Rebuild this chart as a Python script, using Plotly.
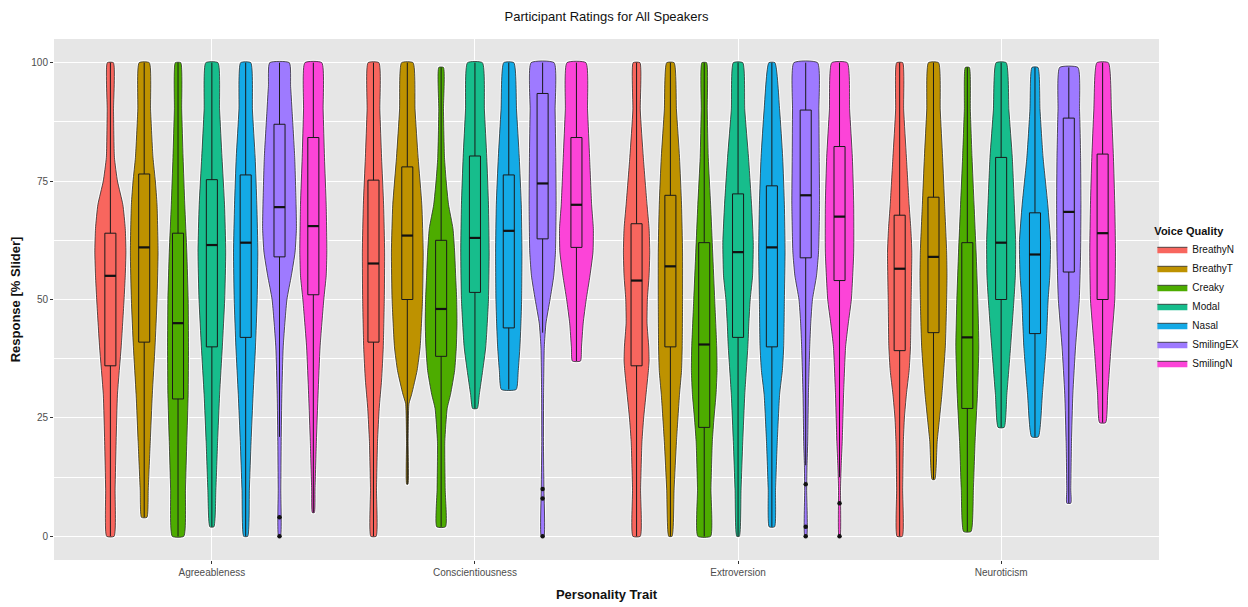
import plotly.graph_objects as go

# ---------------- data ----------------
traits = ["Agreeableness", "Conscientiousness", "Extroversion", "Neuroticism"]
qualities = ["BreathyN", "BreathyT", "Creaky", "Modal", "Nasal", "SmilingEX", "SmilingN"]
colors = ["#F8665E", "#BE9200", "#4DAC00", "#17BD8C", "#14AAE6", "#9E7AFF", "#FC44D8"]

# violin density profiles: (response value, relative width in % of max width)
agree_profiles = {
    "BreathyN": [(100, 18), (90, 19), (80, 24), (75, 42), (70, 74), (65, 88), (60, 92), (55, 88), (50, 81), (40, 64), (30, 42), (20, 34), (10, 28), (0, 22)],
    "BreathyT": [(100, 30), (90, 38), (80, 52), (75, 66), (70, 76), (60, 82), (50, 76), (40, 64), (30, 48), (20, 36), (10, 24), (4, 16)],
    "Creaky": [(100, 16), (90, 22), (80, 30), (70, 40), (60, 52), (50, 60), (40, 62), (30, 60), (20, 52), (10, 44), (0, 34)],
    "Modal": [(100, 36), (90, 46), (80, 60), (70, 75), (60, 82), (50, 76), (40, 62), (30, 46), (20, 34), (10, 24), (2, 12)],
    "Nasal": [(100, 30), (90, 40), (80, 56), (70, 66), (60, 72), (50, 68), (40, 58), (30, 44), (20, 32), (10, 22), (0, 12)],
    "SmilingEX": [(100, 58), (95, 66), (90, 74), (80, 90), (70, 98), (65, 100), (60, 92), (55, 70), (50, 44), (40, 22), (30, 14), (20, 10), (10, 8), (0, 6)],
    "SmilingN": [(100, 50), (90, 58), (80, 66), (70, 76), (60, 80), (55, 76), (50, 62), (40, 40), (30, 28), (20, 18), (10, 10), (5, 6)],
}
consc_profiles = {
    "BreathyN": [(100, 32), (90, 38), (80, 48), (70, 60), (60, 66), (50, 64), (40, 58), (33, 48), (27, 34), (20, 24), (10, 18), (0, 16)],
    "BreathyT": [(100, 34), (90, 46), (80, 64), (70, 86), (60, 94), (50, 90), (40, 76), (35, 58), (30, 26), (28, 10), (20, 5), (11, 4)],
    "Creaky": [(99, 14), (90, 14), (80, 20), (75, 30), (70, 44), (65, 70), (60, 80), (55, 86), (50, 92), (45, 94), (40, 90), (35, 80), (30, 56), (27, 36), (20, 22), (10, 24), (2, 26)],
    "Modal": [(100, 44), (90, 56), (80, 70), (70, 80), (60, 84), (50, 80), (40, 64), (35, 46), (30, 26), (27, 14)],
    "Nasal": [(100, 30), (90, 46), (80, 62), (70, 74), (60, 78), (50, 76), (45, 72), (40, 66), (35, 56), (31, 44)],
    "SmilingEX": [(100, 68), (90, 74), (80, 78), (70, 80), (60, 76), (55, 66), (50, 44), (45, 20), (40, 10), (30, 6), (20, 5), (10, 8), (0, 8)],
    "SmilingN": [(100, 56), (90, 66), (80, 78), (70, 90), (65, 100), (60, 98), (55, 80), (50, 58), (45, 40), (40, 30), (37, 24)],
}
extro_profiles = {
    "BreathyN": [(100, 20), (90, 22), (80, 40), (70, 62), (65, 74), (60, 78), (55, 74), (50, 64), (45, 62), (40, 72), (37, 74), (35, 70), (30, 56), (25, 42), (20, 32), (10, 24), (0, 22)],
    "BreathyT": [(100, 22), (90, 36), (80, 54), (70, 66), (60, 72), (50, 72), (40, 70), (35, 66), (30, 54), (20, 36), (10, 22), (0, 10)],
    "Creaky": [(100, 14), (90, 18), (80, 24), (70, 38), (60, 50), (50, 62), (40, 74), (35, 76), (30, 70), (25, 58), (20, 48), (10, 40), (0, 38)],
    "Modal": [(100, 28), (90, 40), (80, 62), (70, 80), (62, 90), (55, 86), (50, 72), (45, 64), (40, 58), (30, 40), (20, 28), (10, 18), (0, 8)],
    "Nasal": [(100, 18), (90, 46), (80, 64), (70, 74), (60, 78), (50, 74), (40, 70), (35, 62), (30, 46), (20, 32), (10, 22), (2, 16)],
    "SmilingEX": [(100, 70), (90, 78), (80, 80), (70, 82), (60, 76), (55, 64), (50, 40), (45, 30), (40, 24), (30, 16), (20, 12), (15, 8), (10, 6), (0, 6)],
    "SmilingN": [(100, 46), (90, 60), (80, 76), (70, 84), (60, 84), (50, 70), (45, 52), (40, 36), (30, 24), (20, 16), (15, 10), (10, 6), (0, 4)],
}
neuro_profiles = {
    "BreathyN": [(100, 18), (90, 24), (80, 40), (70, 56), (65, 66), (60, 72), (50, 68), (40, 64), (35, 56), (30, 40), (25, 28), (20, 22), (10, 18), (0, 16)],
    "BreathyT": [(100, 30), (90, 40), (80, 54), (70, 66), (60, 78), (55, 80), (50, 78), (40, 70), (30, 50), (25, 36), (20, 22), (12, 8)],
    "Creaky": [(99, 12), (90, 18), (80, 28), (70, 40), (60, 52), (50, 62), (40, 68), (30, 60), (20, 46), (10, 36), (1, 22)],
    "Modal": [(100, 30), (90, 46), (80, 66), (70, 78), (62, 86), (55, 84), (50, 76), (40, 56), (30, 34), (23, 18)],
    "Nasal": [(99, 18), (90, 30), (80, 48), (70, 76), (62, 92), (55, 88), (50, 78), (40, 66), (30, 44), (21, 20)],
    "SmilingEX": [(99, 54), (90, 64), (80, 70), (70, 72), (60, 70), (50, 62), (40, 40), (30, 24), (20, 16), (10, 12), (7, 12)],
    "SmilingN": [(100, 34), (90, 52), (80, 64), (70, 72), (60, 76), (50, 72), (40, 50), (30, 30), (24, 18)],
}
profiles = [agree_profiles, consc_profiles, extro_profiles, neuro_profiles]

# boxplot statistics per trait, in quality order
box_lower = [[0, 4, 0, 2, 0, 21, 5], [0, 11, 2, 27, 31, 43, 37], [0, 0, 0, 0, 2, 15, 12.5], [0, 12, 1, 23, 21, 7, 24]]
box_q1 = [[36, 41, 29, 40, 42, 59, 51], [41, 50, 38, 51.5, 44, 62.8, 61], [36, 40, 23, 42, 40, 58.8, 54], [39.2, 43, 27, 50, 42.8, 55.8, 50]]
box_median = [[55, 61, 45, 61.5, 62, 69.5, 65.5], [57.6, 63.5, 48, 63, 64.5, 74.5, 70], [54, 57, 40.5, 60, 61, 72, 67.5], [56.5, 59, 42, 62, 59.5, 68.5, 64]]
box_q3 = [[64, 76.5, 64, 75.3, 76.3, 87, 84.2], [75.2, 78, 62.5, 80.3, 76.3, 93.5, 84.2], [66, 72, 62, 72.3, 74, 90, 82.3], [67.8, 71.6, 62, 80, 68.3, 88.3, 80.7]]
box_upper = [[100, 100, 100, 100, 100, 100, 100], [100, 100, 99, 100, 100, 100, 100], [100, 100, 100, 100, 100, 100, 100], [100, 100, 99, 100, 99, 99, 100]]

# outliers: (trait, quality, value)
outliers = [
    ("Agreeableness", "SmilingEX", 4), ("Agreeableness", "SmilingEX", 0),
    ("Conscientiousness", "SmilingEX", 10), ("Conscientiousness", "SmilingEX", 8), ("Conscientiousness", "SmilingEX", 0),
    ("Extroversion", "SmilingEX", 11), ("Extroversion", "SmilingEX", 2), ("Extroversion", "SmilingEX", 0),
    ("Extroversion", "SmilingN", 7), ("Extroversion", "SmilingN", 0),
]

# ---------------- layout constants ----------------
DODGE = 0.9
N = len(qualities)
SLOT = DODGE / N          # max violin width in x units
BOX_W = 0.042


def xpos(ti, qi):
    return (ti + 1) + (qi - (N - 1) / 2) * SLOT


fig = go.Figure()

# violins (bottom layer, axes x/y)
for ti, trait in enumerate(traits):
    for qi, q in enumerate(qualities):
        c = xpos(ti, qi)
        prof = profiles[ti][q]
        ys = [p[0] for p in prof]
        hw = [p[1] / 100 * SLOT / 2 for p in prof]
        xs = [c + w for w in hw] + [c - w for w in hw[::-1]] + [c + hw[0]]
        yy = ys + ys[::-1] + [ys[0]]
        # light halo
        fig.add_trace(go.Scatter(
            x=xs, y=yy, mode="lines",
            line=dict(color="rgba(255,255,255,0.9)", width=3, shape="spline", smoothing=0.5),
            showlegend=False, hoverinfo="skip",
        ))
        fig.add_trace(go.Scatter(
            x=xs, y=yy, mode="lines", fill="toself",
            fillcolor=colors[qi], line=dict(color="#2b2b2b", width=0.8, shape="spline", smoothing=0.5),
            name=q, legendgroup=q, showlegend=(ti == 0), hoverinfo="skip",
        ))

# boxes on an overlaid axis pair so they are drawn above the violins
for ti, trait in enumerate(traits):
    for qi, q in enumerate(qualities):
        c = xpos(ti, qi)
        fig.add_trace(go.Box(
            x=[c], q1=[box_q1[ti][qi]], median=[box_median[ti][qi]], q3=[box_q3[ti][qi]],
            lowerfence=[box_lower[ti][qi]], upperfence=[box_upper[ti][qi]],
            width=BOX_W, whiskerwidth=0, boxpoints=False,
            fillcolor=colors[qi], line=dict(color="#1a1a1a", width=1),
            showlegend=False, legendgroup=q, hoverinfo="skip",
            xaxis="x2", yaxis="y2",
        ))

for ti, trait in enumerate(traits):
    for qi, q in enumerate(qualities):
        c = xpos(ti, qi)
        m = box_median[ti][qi]
        fig.add_trace(go.Scatter(
            x=[c - BOX_W / 2, c + BOX_W / 2], y=[m, m], mode="lines",
            line=dict(color="#111111", width=2.2), showlegend=False, hoverinfo="skip",
            xaxis="x2", yaxis="y2",
        ))

ox = [xpos(traits.index(t), qualities.index(q)) for t, q, v in outliers]
oy = [v for t, q, v in outliers]
fig.add_trace(go.Scatter(x=ox, y=oy, mode="markers", marker=dict(color="#111111", size=4.5),
                         showlegend=False, hoverinfo="skip", xaxis="x2", yaxis="y2"))

FONT = "Liberation Sans, Arial, sans-serif"
XR = [0.4, 4.6]
YR = [-5, 105]
# the page body adds an 8px offset, so the figure is sized to fill the rest of the window
W, H = 1240, 599
fig.update_layout(
    width=W, height=H,
    margin=dict(l=46, r=89, t=31, b=47, autoexpand=False),
    paper_bgcolor="white", plot_bgcolor="#E6E6E6",
    font=dict(family=FONT, color="#000000"),
    title=dict(text="Participant Ratings for All Speakers", x=0.5, xref="paper", xanchor="center",
               y=1 - 8 / H, yref="container", yanchor="middle", font=dict(size=13, color="#111")),
    showlegend=True,
    legend=dict(
        title=dict(text="<b>Voice Quality</b>", font=dict(size=11, color="#111")),
        x=0.994, xanchor="left", y=0.5, yanchor="middle",
        font=dict(size=10, color="#111"), bgcolor="rgba(0,0,0,0)",
        tracegroupgap=0, itemwidth=30,
    ),
    xaxis=dict(
        range=XR, tickmode="array", tickvals=[1, 2, 3, 4], ticktext=traits,
        showgrid=True, gridcolor="white", gridwidth=1.2, zeroline=False, automargin=False,
        ticks="outside", ticklen=3, tickcolor="#333", tickfont=dict(size=10, color="#4D4D4D"),
        title=dict(text="<b>Personality Trait</b>", font=dict(size=13, color="#111"), standoff=12),
        showline=False,
    ),
    yaxis=dict(
        range=YR, tickmode="array", tickvals=[0, 25, 50, 75, 100],
        showgrid=True, gridcolor="white", gridwidth=1.2, zeroline=False, automargin=False,
        ticks="outside", ticklen=3, tickcolor="#333", tickfont=dict(size=10, color="#4D4D4D"),
        minor=dict(tickvals=[12.5, 37.5, 62.5, 87.5], showgrid=True, gridcolor="white", gridwidth=0.6, ticks=""),
        title=dict(text="<b>Response [% Slider]</b>", font=dict(size=13, color="#111"), standoff=14),
        showline=False,
    ),
    xaxis2=dict(range=XR, overlaying="x", matches="x", visible=False),
    yaxis2=dict(range=YR, overlaying="y", matches="y", visible=False),
)

fig.write_html("out.html")
